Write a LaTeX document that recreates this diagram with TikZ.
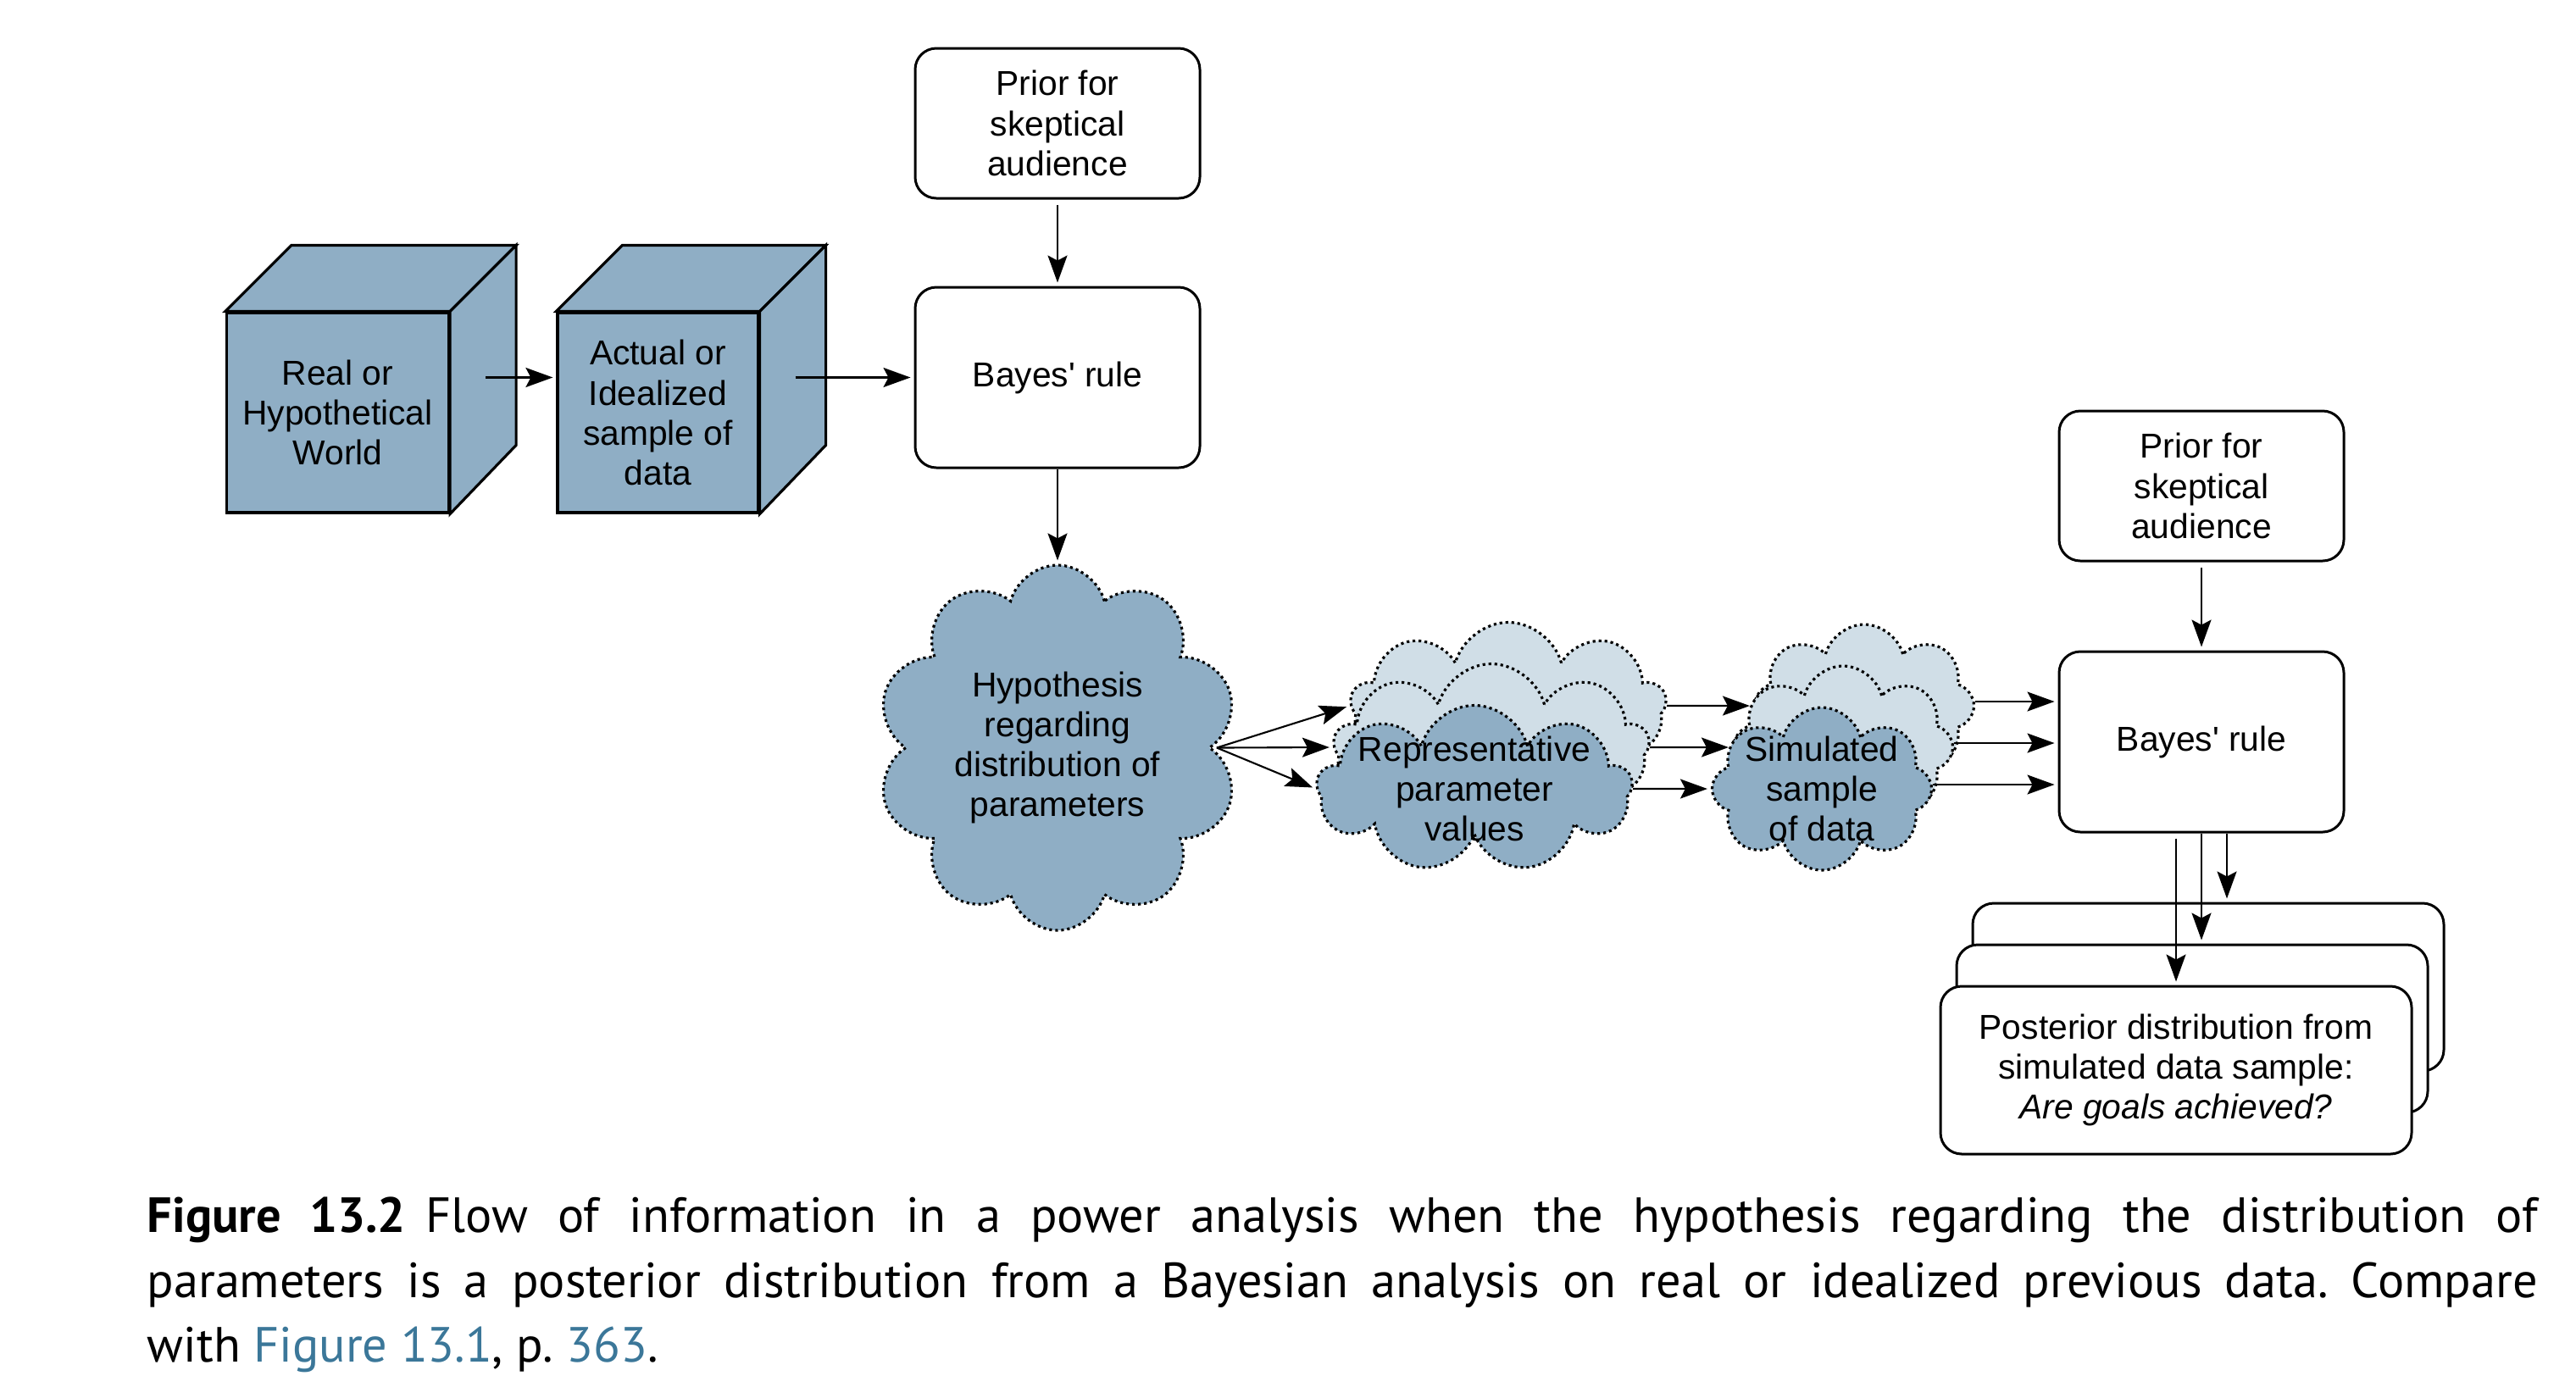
\documentclass[tikz,border=0pt]{standalone}
\usepackage{fontspec}
\setmainfont{Liberation Sans}
\newfontfamily\diagfont{Liberation Sans}
\newfontfamily\capfont{PT Sans}
\usetikzlibrary{shapes.symbols,arrows.meta,calc}
\definecolor{cubeblue}{HTML}{8FAEC5}
\definecolor{cloudlight}{HTML}{D0DEE7}
\definecolor{linkblue}{HTML}{3B7799}

\begin{document}
\begin{tikzpicture}[>={Stealth[length=3.2mm,width=2.3mm,inset=0.6mm]},
	font=\diagfont\fontsize{11.6}{13.4}\selectfont,
	box node/.style = {rectangle,rounded corners=2.5mm,draw,line width=0.85pt,fill=white,align=center,minimum width=3.36cm},
	cube node/.style = {rectangle,draw,line width=0.9pt,fill=cubeblue,align=center,minimum height=2.36cm,inner sep=0pt},
	cube face/.style = {draw,line width=0.9pt,fill=cubeblue},
	cloud node/.style = {cloud,cloud puffs=9,cloud ignores aspect,draw,line width=0.9pt,dash pattern=on 0.9pt off 1.1pt,fill=cubeblue,inner sep=0pt},
	light cloud/.style = {cloud node,fill=cloudlight},
	link/.style = {->,line width=0.6pt,shorten >=0.4mm},
	caption node/.style = {anchor=north west,inner sep=0pt,text width=28.21cm,align=justify,font=\capfont\fontsize{16.6}{21.8}\selectfont\frenchspacing}]
	
	\useasboundingbox (0,0) rectangle (30.40,-16.36);
	
	% left part
	\node[cube node,minimum width=2.62cm] (1) at (3.985,-4.87) {Real or\\Hypothetical\\World};
	\node[cube node,minimum width=2.37cm] [right of = 1,node distance=3.78cm] (2) {Actual or\\Idealized\\sample of\\data};
	\foreach \n in {1,2}{
		\filldraw[cube face] (\n.north west) -- ++(0.78,0.78) -- ($(\n.north east)+(0.78,0.78)$) -- (\n.north east) -- cycle;
		\filldraw[cube face] (\n.north east) -- ++(0.78,0.78) -- ++(0,-2.36) -- (\n.south east) -- cycle;
	}
	\node[box node,minimum height=1.77cm] (3) at (12.48,-1.455) {Prior for\\skeptical\\audience};
	\node[box node,minimum height=2.13cm] [below of = 3,node distance=3.0cm] (4) {Bayes' rule};
	\node[cloud node,cloud puffs=10,minimum width=4.27cm,minimum height=4.31cm,
		label={[align=center]center:Hypothesis\\regarding\\distribution of\\parameters}] [below of = 4,node distance=4.37cm] (5) {};
	
	% clouds in the middle
	\node[light cloud,minimum width=3.72cm,minimum height=1.97cm] (8) at (17.80,-8.33) {};
	\node[light cloud,minimum width=3.72cm,minimum height=1.97cm] (7) at (17.60,-8.82) {};
	\node[cloud node,minimum width=3.72cm,minimum height=1.97cm,
		label={[align=center]center:Representative\\parameter\\values}] (6) at (17.40,-9.31) {};
	\node[light cloud,cloud puffs=8,minimum width=2.59cm,minimum height=1.92cm] (11) at (22.00,-8.33) {};
	\node[light cloud,cloud puffs=8,minimum width=2.59cm,minimum height=1.92cm] (10) at (21.75,-8.82) {};
	\node[cloud node,cloud puffs=8,minimum width=2.59cm,minimum height=1.92cm,
		label={[align=center]center:Simulated\\sample\\of data}] (9) at (21.50,-9.31) {};
	
	% right part
	\node[box node,minimum height=1.77cm] (12) at (25.98,-5.735) {Prior for\\skeptical\\audience};
	\node[box node,minimum height=2.13cm] [below of = 12,node distance=3.02cm] (13) {Bayes' rule};
	\node[box node,minimum width=5.56cm,minimum height=1.98cm] (16) at (26.06,-11.65) {};
	\node[box node,minimum width=5.56cm,minimum height=1.98cm] (15) at ($(16)+(-0.19,-0.49)$) {};
	\node[box node,minimum width=5.56cm,minimum height=1.98cm] (14) at ($(15)+(-0.19,-0.49)$)
		{Posterior distribution from\\simulated data sample:\\\textit{Are goals achieved?}};
	
	\node[caption node] (17) at (1.73,-14.12) {{\bfseries Figure 13.2}\hspace{0.4em}Flow of information in a power analysis when the hypothesis regarding the distribution of\linebreak parameters is a posterior distribution from a Bayesian analysis on real or idealized previous data. Compare\linebreak with \textcolor{linkblue}{Figure 13.1}, p.~\textcolor{linkblue}{363}.};
	
	% arrows
	\draw[link] ([xshift=4.2mm]1.east |- 4.west) -- (2.west |- 4.west);
	\draw[link] ([xshift=4.2mm]2.east |- 4.west) -- (4.west);
	\draw[link,shorten <=0.6mm] (3) -- (4);
	\draw[link] (4) -- (5);
	\coordinate (fan) at ([xshift=0.6mm]5.east);
	\draw[link] (fan) -- (8.west);
	\draw[link] (fan) -- (7.west);
	\draw[link] (fan) -- (6.west);
	\draw[link] (8) -- (11);
	\draw[link] (7) -- (10);
	\draw[link] (6) -- (9);
	\draw[link] ([yshift=0.5mm]11.east) -- ([yshift=0.5mm]11.east -| 13.west);
	\draw[link] ([yshift=0.5mm]10.east) -- ([yshift=0.5mm]10.east -| 13.west);
	\draw[link] ([yshift=0.5mm]9.east) -- ([yshift=0.5mm]9.east -| 13.west);
	\draw[link,shorten <=0.6mm] (12) -- (13);
	\draw[link,shorten <=0.6mm] ([xshift=-3mm]13.south) -- ([xshift=-3mm]13.south |- 14.north);
	\draw[link] (13.south) -- (13.south |- 15.north);
	\draw[link] ([xshift=3mm]13.south) -- ([xshift=3mm]13.south |- 16.north);
	
\end{tikzpicture}
\end{document}
